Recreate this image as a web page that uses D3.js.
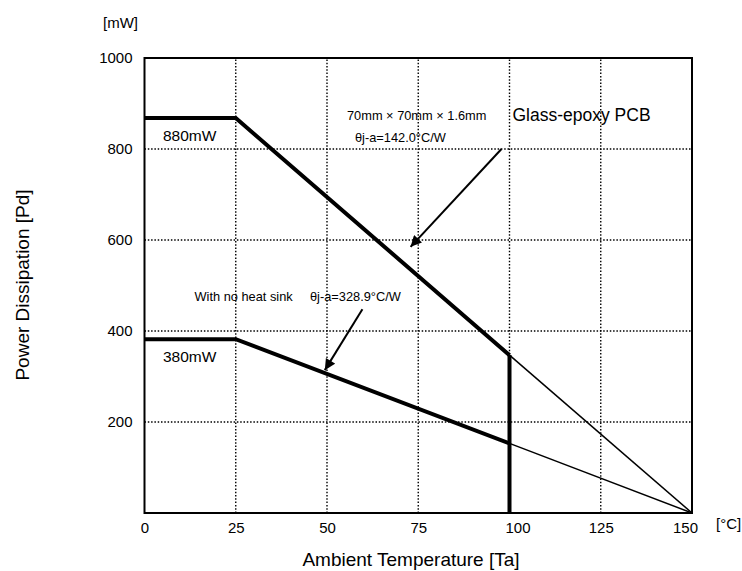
<!DOCTYPE html>
<html>
<head>
<meta charset="utf-8">
<script src="https://cdn.jsdelivr.net/npm/d3@7"></script>
<style>
body { margin: 0; background: #fff; }
text { font-family: "Liberation Sans", Arial, sans-serif; fill: #000; }
</style>
</head>
<body>
<svg id="chart" width="742" height="571"></svg>
<script>
// axis ticks
var tempTicks = [0, 25, 50, 75, 100, 125, 150];
var powerTicks = [200, 400, 600, 800, 1000];

// derating curves (Ta in C, Pd in mW)
var pcbTemps = [0, 25, 100];
var pcbPower = [868, 868, 347];
var pcbTailTemps = [100, 150];
var pcbTailPower = [347, 0];

var bareTemps = [0, 25, 100];
var barePower = [382, 382, 153];
var bareTailTemps = [100, 150];
var bareTailPower = [153, 0];

var cutTemps = [100, 100];
var cutPower = [347, 0];

var svg = d3.select("#chart");
var plotLeft = 144.5, plotRight = 692, plotTop = 58, plotBottom = 513;

var x = d3.scaleLinear().domain([0, 150]).range([plotLeft, plotRight]);
var y = d3.scaleLinear().domain([0, 1000]).range([plotBottom, plotTop]);

svg.append("defs").append("marker")
	.attr("id", "head")
	.attr("viewBox", "0 -5 10 10")
	.attr("refX", 10)
	.attr("refY", 0)
	.attr("orient", "auto")
	.attr("markerUnits", "userSpaceOnUse")
	.attr("markerWidth", 13)
	.attr("markerHeight", 11)
	.append("path")
	.attr("d", "M0,-5 L10,0 L0,5 Z")
	.attr("fill", "#000");

// dotted grid
svg.append("g")
	.selectAll("line")
	.data(tempTicks.filter(function (d) { return d > 0 && d < 150; }))
	.enter().append("line")
	.attr("x1", function (d) { return x(d); })
	.attr("x2", function (d) { return x(d); })
	.attr("y1", y(0))
	.attr("y2", y(1000))
	.attr("stroke", "#000")
	.attr("stroke-width", 1.4)
	.attr("stroke-dasharray", "1.5,1.8");

svg.append("g")
	.selectAll("line")
	.data(powerTicks.filter(function (d) { return d < 1000; }))
	.enter().append("line")
	.attr("x1", x(0))
	.attr("x2", x(150))
	.attr("y1", function (d) { return y(d); })
	.attr("y2", function (d) { return y(d); })
	.attr("stroke", "#000")
	.attr("stroke-width", 1.4)
	.attr("stroke-dasharray", "1.5,1.8");

// frame
svg.append("rect")
	.attr("x", x(0))
	.attr("y", y(1000))
	.attr("width", x(150) - x(0))
	.attr("height", y(0) - y(1000))
	.attr("fill", "none")
	.attr("stroke", "#000")
	.attr("stroke-width", 2);

// axes (labels only)
var xAxis = d3.axisBottom(x).tickValues(tempTicks).tickSize(0).tickPadding(9).tickFormat(d3.format("d"));
svg.append("g")
	.attr("transform", "translate(0," + plotBottom + ")")
	.call(xAxis)
	.call(function (g) { g.select(".domain").remove(); })
	.selectAll("text")
	.attr("dx", function (d) { return d == 100 ? 8 : (d == 150 ? -7 : 0); })
	.style("font-family", "Liberation Sans, Arial, sans-serif")
	.style("font-size", "15px");

var yAxis = d3.axisLeft(y).tickValues(powerTicks).tickSize(0).tickPadding(12).tickFormat(d3.format("d"));
svg.append("g")
	.attr("transform", "translate(" + plotLeft + ",0)")
	.call(yAxis)
	.call(function (g) { g.select(".domain").remove(); })
	.selectAll("text")
	.style("font-family", "Liberation Sans, Arial, sans-serif")
	.style("font-size", "15px");

function pts(xs, ys) {
	return xs.map(function (d, i) { return [d, ys[i]]; });
}
var line = d3.line()
	.x(function (d) { return x(d[0]); })
	.y(function (d) { return y(d[1]); });

function drawLine(data, w) {
	svg.append("path")
		.attr("d", line(data))
		.attr("fill", "none")
		.attr("stroke", "#000")
		.attr("stroke-width", w)
		.attr("stroke-linejoin", "miter");
}
drawLine(pts(pcbTailTemps, pcbTailPower), 1.5);
drawLine(pts(bareTailTemps, bareTailPower), 1.5);
drawLine(pts(pcbTemps, pcbPower), 4);
drawLine(pts(bareTemps, barePower), 4);
drawLine(pts(cutTemps, cutPower), 4);

// arrows
function arrow(x1, y1, x2, y2) {
	svg.append("line")
		.attr("x1", x(x1)).attr("y1", y(y1))
		.attr("x2", x(x2)).attr("y2", y(y2))
		.attr("stroke", "#000")
		.attr("stroke-width", 2)
		.attr("marker-end", "url(#head)");
}
arrow(97.8, 800, 72.9, 585);
arrow(59.7, 448, 49.4, 314);

// annotations
function label(tx, ty, str, size, anchor) {
	svg.append("text")
		.attr("x", tx)
		.attr("y", ty)
		.attr("text-anchor", anchor || "start")
		.style("font-size", size + "px")
		.text(str);
}
label(163, 141, "880mW", 15.5);
label(163, 362, "380mW", 15.5);
label(347, 120, "70mm × 70mm × 1.6mm", 12.8);
label(355, 141.5, "θj-a=142.0°C/W", 12.8);
label(512.5, 121, "Glass-epoxy PCB", 17.5);
label(194.5, 301, "With no heat sink", 12.8);
label(310, 301, "θj-a=328.9°C/W", 12.8);
label(103, 28, "[mW]", 15);
label(716, 529, "[°C]", 15);
label(411, 566, "Ambient Temperature [Ta]", 19, "middle");

svg.append("text")
	.attr("transform", "translate(29,285) rotate(-90)")
	.attr("text-anchor", "middle")
	.style("font-size", "19px")
	.text("Power Dissipation [Pd]");
</script>
</body>
</html>
